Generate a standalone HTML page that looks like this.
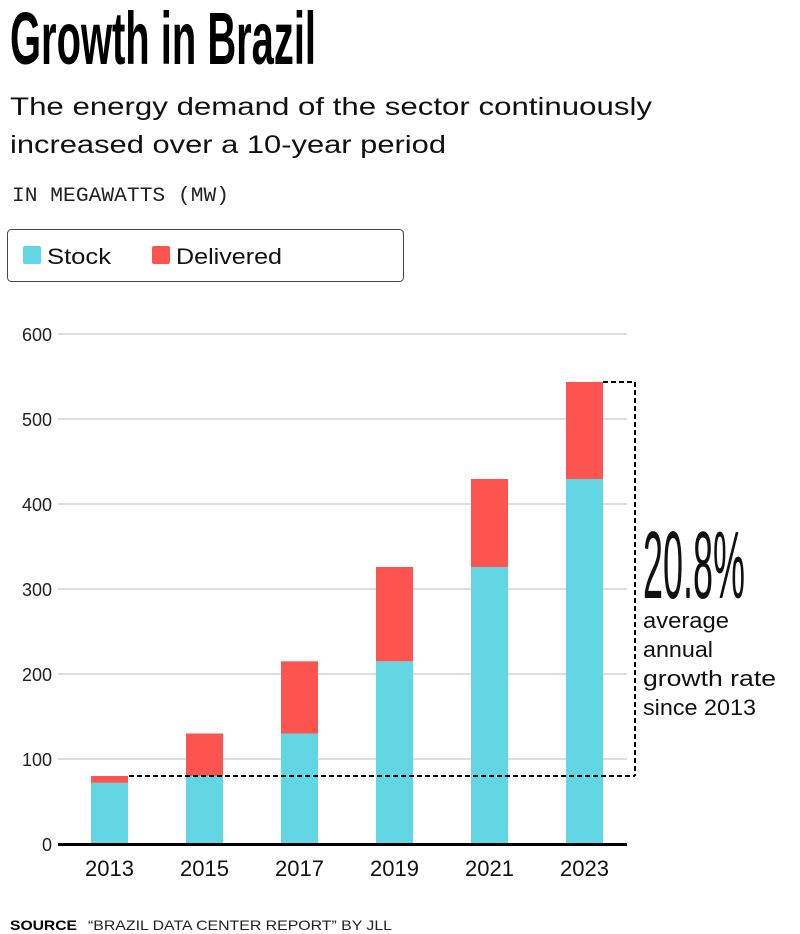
<!DOCTYPE html>
<html>
<head>
<meta charset="utf-8">
<style>
html,body{margin:0;padding:0;background:#fff;}
svg{display:block;}
</style>
</head>
<body>
<svg width="800" height="934" viewBox="0 0 800 934" xmlns="http://www.w3.org/2000/svg">
  <!-- Title -->
  <text x="10" y="64" font-family="Liberation Sans, sans-serif" font-weight="bold" font-size="74" textLength="306" lengthAdjust="spacingAndGlyphs" fill="#000">Growth in Brazil</text>
  <!-- Subtitle -->
  <text x="10" y="115" font-family="Liberation Sans, sans-serif" font-size="25" textLength="642" lengthAdjust="spacingAndGlyphs" fill="#111">The energy demand of the sector continuously</text>
  <text x="10" y="153" font-family="Liberation Sans, sans-serif" font-size="25" textLength="436" lengthAdjust="spacingAndGlyphs" fill="#111">increased over a 10-year period</text>
  <!-- Unit -->
  <text x="12" y="201" font-family="Liberation Mono, monospace" font-size="20" textLength="217" lengthAdjust="spacingAndGlyphs" fill="#222">IN MEGAWATTS (MW)</text>

  <!-- Legend -->
  <rect x="7.5" y="229.5" width="396" height="52" rx="4" ry="4" fill="none" stroke="#444" stroke-width="1"/>
  <rect x="23" y="246" width="18" height="18" rx="2" fill="#62d6e2"/>
  <text x="47" y="264" font-family="Liberation Sans, sans-serif" font-size="22" textLength="64" lengthAdjust="spacingAndGlyphs" fill="#111">Stock</text>
  <rect x="152" y="246" width="18" height="18" rx="2" fill="#fe544f"/>
  <text x="176" y="264" font-family="Liberation Sans, sans-serif" font-size="22" textLength="106" lengthAdjust="spacingAndGlyphs" fill="#111">Delivered</text>

  <!-- Gridlines -->
  <g stroke="#dddddd" stroke-width="2">
    <line x1="58" y1="334" x2="627" y2="334"/>
    <line x1="58" y1="419" x2="627" y2="419"/>
    <line x1="58" y1="504" x2="627" y2="504"/>
    <line x1="58" y1="589" x2="627" y2="589"/>
    <line x1="58" y1="674" x2="627" y2="674"/>
    <line x1="58" y1="759" x2="627" y2="759"/>
  </g>
  <!-- Y labels -->
  <g font-family="Liberation Sans, sans-serif" font-size="18" fill="#222" text-anchor="end">
    <text x="52" y="341">600</text>
    <text x="52" y="426">500</text>
    <text x="52" y="511">400</text>
    <text x="52" y="596">300</text>
    <text x="52" y="681">200</text>
    <text x="52" y="766">100</text>
    <text x="52" y="851">0</text>
  </g>

  <!-- Bars -->
  <g>
    <rect x="91" y="782.8" width="37" height="61.2" fill="#62d6e2"/>
    <rect x="91" y="776" width="37" height="6.8" fill="#fe544f"/>
    <rect x="186" y="776" width="37" height="68" fill="#62d6e2"/>
    <rect x="186" y="733.5" width="37" height="42.5" fill="#fe544f"/>
    <rect x="281" y="733.5" width="37" height="110.5" fill="#62d6e2"/>
    <rect x="281" y="661.3" width="37" height="72.2" fill="#fe544f"/>
    <rect x="376" y="661.3" width="37" height="182.7" fill="#62d6e2"/>
    <rect x="376" y="567" width="37" height="94.3" fill="#fe544f"/>
    <rect x="471" y="567" width="37" height="277" fill="#62d6e2"/>
    <rect x="471" y="479" width="37" height="88" fill="#fe544f"/>
    <rect x="566" y="479" width="37" height="365" fill="#62d6e2"/>
    <rect x="566" y="382" width="37" height="97" fill="#fe544f"/>
  </g>

  <!-- Baseline -->
  <line x1="58" y1="844.5" x2="627" y2="844.5" stroke="#000" stroke-width="3"/>

  <!-- Dashed bracket -->
  <g stroke="#000" stroke-width="2" fill="none" stroke-dasharray="5 3">
    <line x1="129" y1="776" x2="635" y2="776"/>
    <line x1="603" y1="382" x2="635" y2="382"/>
    <line x1="635" y1="382" x2="635" y2="776"/>
  </g>

  <!-- X labels -->
  <g font-family="Liberation Sans, sans-serif" font-size="22" fill="#111" text-anchor="middle">
    <text x="109.5" y="876">2013</text>
    <text x="204.5" y="876">2015</text>
    <text x="299.5" y="876">2017</text>
    <text x="394.5" y="876">2019</text>
    <text x="489.5" y="876">2021</text>
    <text x="584.5" y="876">2023</text>
  </g>

  <!-- Annotation -->
  <text x="643" y="598" font-family="Liberation Sans, sans-serif" font-size="96" textLength="102" lengthAdjust="spacingAndGlyphs" fill="#111">20.8%</text>
  <g font-family="Liberation Sans, sans-serif" font-size="22" fill="#111">
    <text x="643" y="628" textLength="86" lengthAdjust="spacingAndGlyphs">average</text>
    <text x="643" y="657" textLength="70" lengthAdjust="spacingAndGlyphs">annual</text>
    <text x="643" y="686" textLength="133" lengthAdjust="spacingAndGlyphs">growth rate</text>
    <text x="643" y="715" textLength="113" lengthAdjust="spacingAndGlyphs">since 2013</text>
  </g>

  <!-- Source -->
  <text x="10" y="930" font-family="Liberation Sans, sans-serif" font-weight="bold" font-size="14" textLength="67" lengthAdjust="spacingAndGlyphs" fill="#000">SOURCE</text>
  <text x="88" y="930" font-family="Liberation Sans, sans-serif" font-size="14" textLength="304" lengthAdjust="spacingAndGlyphs" fill="#222">“BRAZIL DATA CENTER REPORT” BY JLL</text>
</svg>
</body>
</html>
